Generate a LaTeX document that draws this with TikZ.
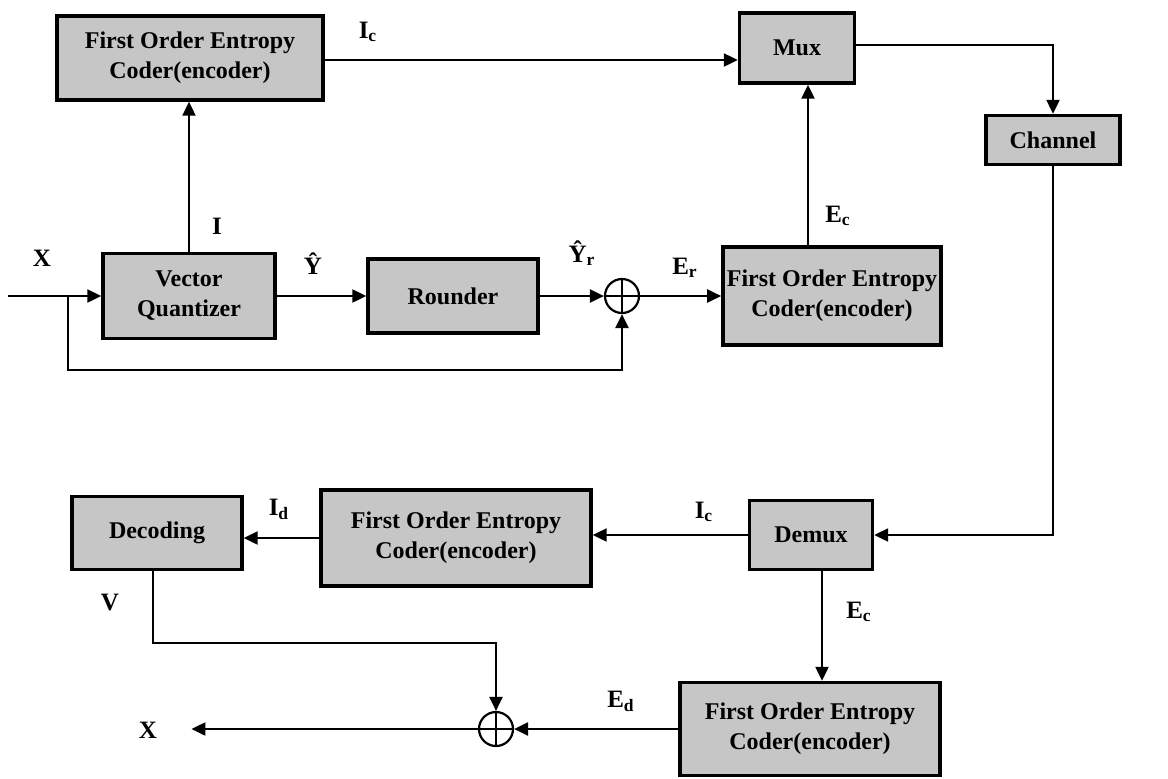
\documentclass[tikz,border=0pt]{standalone}
\usepackage{fontspec}
\setmainfont{Liberation Serif}
\usetikzlibrary{arrows.meta,positioning,calc}
\definecolor{BoxGray}{HTML}{C6C6C6}
\newcommand{\boxfont}{\fontsize{12}{15}\selectfont\bfseries}
\newcommand{\lblfont}{\fontsize{12.5}{14}\selectfont\bfseries}
\tikzset{
 block/.style={draw=black, line width=1.7pt, fill=BoxGray, align=center, inner sep=2pt, font=\boxfont},
 sumnode/.style={circle, draw=black, line width=1.1pt, fill=white, minimum size=17pt, inner sep=0pt,
  path picture={\draw[line width=1.1pt] (path picture bounding box.north) -- (path picture bounding box.south)
   (path picture bounding box.west) -- (path picture bounding box.east);}},
 arrow/.style={-{Triangle[length=7pt,width=6.5pt]}, line width=1.1pt, draw=black},
 lbl/.style={font=\lblfont, inner sep=1pt}
}
\begin{document}
\begin{tikzpicture}[x=0.5pt,y=-0.5pt]
\useasboundingbox[fill=white] (0,0) rectangle (1168,778);
% encoder side
\node[block,minimum width=133pt,minimum height=42pt] (coderA) at (190,58) {First Order Entropy\\Coder(encoder)};
\node[block,minimum width=57.5pt,minimum height=35pt] (mux) at (797,48) {Mux};
\node[block,minimum width=67pt,minimum height=24.5pt] (channel) at (1053,140) {Channel};
\node[block,minimum width=86pt,minimum height=42.5pt] (vq) at (189,296) {Vector\\Quantizer};
\node[block,minimum width=85pt,minimum height=37pt] (rounder) at (453,296) {Rounder};
\node[sumnode] (sumA) at (622,296) {};
\node[block,minimum width=107.5pt,minimum height=49pt] (coderB) at (832,296) {First Order Entropy\\Coder(encoder)};
\coordinate (in) at (8,296);
\coordinate (split) at (68,296);
\coordinate (fb) at (68,370);
% decoder side
\node[block,minimum width=85pt,minimum height=36.5pt] (decoding) at (157,533) {Decoding};
\node[block,minimum width=135pt,minimum height=48pt] (coderC) at (456,538) {First Order Entropy\\Coder(encoder)};
\node[block,minimum width=61.5pt,minimum height=34.5pt] (demux) at (811,535) {Demux};
\node[block,minimum width=130pt,minimum height=46.5pt] (coderD) at (810,729) {First Order Entropy\\Coder(encoder)};
\node[sumnode] (sumB) at (496,729) {};
% labels
\node[lbl] (xin) at (42,258) {X};
\node[lbl] (lI) at (217,226) {I};
\node[lbl] (lIc) at (368,32) {I\textsubscript{c}};
\node[lbl] (lY) at (313,264) {Ŷ};
\node[lbl] (lYr) at (582,253) {Ŷ\textsubscript{r}};
\node[lbl] (lEr) at (685,268) {E\textsubscript{r}};
\node[lbl] (lEc) at (838,216) {E\textsubscript{c}};
\node[lbl] (lIc2) at (704,512) {I\textsubscript{c}};
\node[lbl] (lId) at (279,509) {I\textsubscript{d}};
\node[lbl] (lEc2) at (859,612) {E\textsubscript{c}};
\node[lbl] (lEd) at (621,701) {E\textsubscript{d}};
\node[lbl] (lV) at (110,602) {V};
\node[lbl] (xout) at (148,730) {X};
% connectors
\draw[arrow] (in) -- (vq.west);
\draw[arrow] (vq.east) -- (rounder.west);
\draw[arrow] (rounder.east) -- (sumA.west);
\draw[arrow] (sumA.east) -- (coderB.west);
\draw[arrow] (split) -- (fb) -| (sumA.south);
\draw[arrow] (vq.north) -- (vq.north |- coderA.south);
\draw[arrow] ([yshift=-1pt]coderA.east) -- ([yshift=-1pt]coderA.east -| mux.west);
\draw[arrow] ([xshift=5.5pt]mux.south |- coderB.north) -- ([xshift=5.5pt]mux.south);
\draw[arrow] ([yshift=1.5pt]mux.east) -| (channel.north);
\draw[arrow] (channel.south) |- (demux.east);
\draw[arrow] (demux.west) -- (demux.west -| coderC.east);
\draw[arrow] (coderC.west) -- (coderC.west -| decoding.east);
\draw[arrow] ([xshift=5.5pt]demux.south) -- ([xshift=5.5pt]demux.south |- coderD.north);
\draw[arrow] (coderD.west) -- (sumB.east);
\draw[arrow] ([xshift=-2pt]decoding.south) -- ++(0,72) -| (sumB.north);
\draw[arrow,shorten >=16pt] (sumB.west) -- (sumB.west -| xout.east);
\end{tikzpicture}
\end{document}
